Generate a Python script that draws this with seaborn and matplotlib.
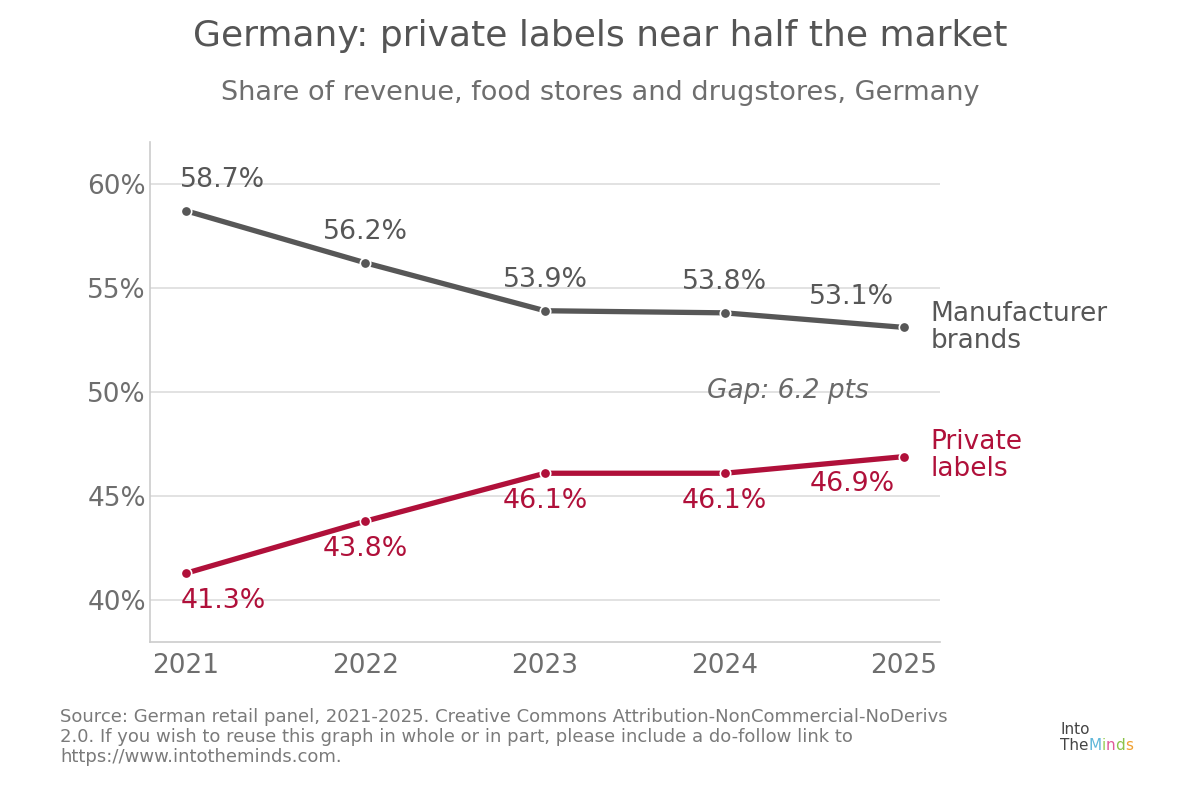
import matplotlib
matplotlib.use("Agg")
import matplotlib.pyplot as plt
import seaborn as sns
import pandas as pd

years = [2021, 2022, 2023, 2024, 2025]
manufacturer = [58.7, 56.2, 53.9, 53.8, 53.1]
private = [41.3, 43.8, 46.1, 46.1, 46.9]
yticks = [40, 45, 50, 55, 60]

GRAY = "#575757"
RED = "#B0103A"
TICK = "#6e6e6e"

sns.set_theme(style="white")
plt.rcParams['font.family'] = ['DejaVu Sans']

df = pd.DataFrame({
    "year": years * 2,
    "share": manufacturer + private,
    "series": ["Manufacturer brands"] * 5 + ["Private labels"] * 5,
})

fig = plt.figure(figsize=(12, 7.87), dpi=100)
ax = fig.add_axes([150 / 1200, 1 - 642 / 787, 790 / 1200, 500 / 787])

sns.lineplot(data=df, x="year", y="share", hue="series",
             palette={"Manufacturer brands": GRAY, "Private labels": RED},
             linewidth=3.8, marker="o", markersize=7.5, markeredgecolor="white",
             markeredgewidth=1.2, legend=False, ax=ax)

ax.set_xlim(2020.8, 2025.2)
ax.set_ylim(38, 62)
ax.set_xticks(years)
ax.set_xticklabels([str(y) for y in years])
ax.set_yticks(yticks)
ax.set_yticklabels([f"{v}%" for v in yticks])
ax.tick_params(axis="both", labelsize=19, colors=TICK, length=0)
ax.tick_params(axis="x", pad=8)
ax.tick_params(axis="y", pad=3)
ax.grid(axis="y", color="#dddddd", linewidth=1.2)
ax.set_axisbelow(True)
for s in ["top", "right"]:
    ax.spines[s].set_visible(False)
for s in ["left", "bottom"]:
    ax.spines[s].set_color("#cccccc")
    ax.spines[s].set_linewidth(1.2)
ax.set_xlabel("")
ax.set_ylabel("")

n = len(years)
for i, (x, m, p) in enumerate(zip(years, manufacturer, private)):
    if i == 0:
        ha, dx = "left", -4
    elif i == n - 1:
        ha, dx = "right", -7
    else:
        ha, dx = "center", 0
    ax.annotate(f"{m}%", (x, m), xytext=(dx, 22), textcoords="offset points",
                ha=ha, va="center", fontsize=19.3, color=GRAY)
    ax.annotate(f"{p}%", (x, p), xytext=(dx, -20), textcoords="offset points",
                ha=ha, va="center", fontsize=19.3, color=RED)

ax.annotate("Manufacturer\nbrands", (years[-1], manufacturer[-1]), xytext=(19, 0),
            textcoords="offset points", ha="left", va="center", fontsize=19,
            color=GRAY, annotation_clip=False, linespacing=1.05)
ax.annotate("Private\nlabels", (years[-1], private[-1]), xytext=(19, 1),
            textcoords="offset points", ha="left", va="center", fontsize=19,
            color=RED, annotation_clip=False, linespacing=1.05)

ax.text(2024.35, 50.05, f"Gap: {abs(manufacturer[-1] - private[-1]):.1f} pts",
        ha="center", va="center", fontsize=19, color="#6a6a6a", style="italic")

fig.text(0.5, 1 - 36 / 787, "Germany: private labels near half the market",
         ha="center", va="center", fontsize=26, color="#555555")
fig.text(0.5, 1 - 93 / 787, "Share of revenue, food stores and drugstores, Germany",
         ha="center", va="center", fontsize=19.5, color="#6e6e6e")

fig.text(60 / 1200, 1 - 737 / 787,
         "Source: German retail panel, 2021-2025. Creative Commons Attribution-NonCommercial-NoDerivs\n"
         "2.0. If you wish to reuse this graph in whole or in part, please include a do-follow link to\n"
         "https://www.intotheminds.com.",
         ha="left", va="center", fontsize=13, color="#7a7a7a", linespacing=1.15)

# logo (text approximation)
fig.text(1060 / 1200, 1 - 729 / 787, "Into", ha="left", va="center", fontsize=11, color="#444444")
lx = 1060 / 1200
ly = 1 - 746 / 787
parts = [("The", "#444444"), ("M", "#5fb7d9"), ("i", "#9ccf5a"), ("n", "#e05a9a"),
         ("d", "#8bc34a"), ("s", "#f0a030")]
renderer = fig.canvas.get_renderer()
for t, c in parts:
    txt = fig.text(lx, ly, t, ha="left", va="center", fontsize=11, color=c)
    bb = txt.get_window_extent(renderer=renderer)
    lx += bb.width / 1200

fig.savefig("out.png", dpi=100, facecolor="white")
